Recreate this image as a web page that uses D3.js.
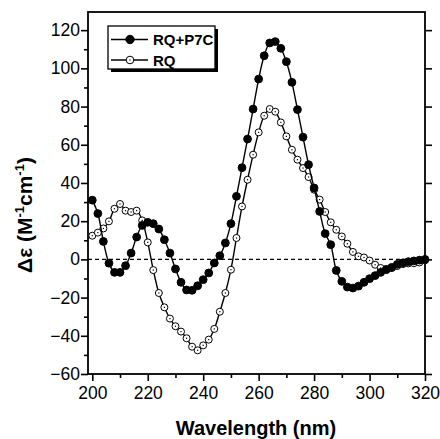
<!DOCTYPE html>
<html>
<head>
<meta charset="utf-8">
<script src="https://cdn.jsdelivr.net/npm/d3@7"></script>
<style>
  body { margin: 0; background: #fff; }
  text { font-family: Arial, "Liberation Sans", sans-serif; }
</style>
</head>
<body>
<div id="chart"></div>
<script>
// wavelength every 2 nm, 200..320
var wavelengths = d3.range(200, 321, 2);

var rqP7C = [31, 24, 9.4, -2, -6.8, -6.8, -3.3, 3.3, 11.7, 17.8,
  19.4, 18.7, 15.9, 10.3, 3.3, -5, -12, -16, -16.2, -13.8,
  -10.6, -7.1, -1.9, 1.9, 8.6, 18.7, 33, 48, 63, 78.7,
  94.4, 106.6, 113.3, 114, 110.5, 103.5, 92.7, 78.4, 64, 49.6,
  37.4, 25.1, 13.5, 7.7, -5.8, -11.5, -14.5, -15, -14, -12,
  -10.1, -8.5, -6.8, -5.4, -4.2, -2.6, -1.8, -1.2, -0.8, -0.4, 0];

var rq = [12.4, 14, 16.2, 19.9, 26.5, 29, 25.5, 24.8, 25.5, 20.4,
  8.9, -5.6, -17.6, -25.1, -31, -35, -37.8, -41.3, -45.7, -47.6,
  -45, -42, -36.4, -27.4, -17.6, -5.4, 11.2, 27.7, 41.7, 54.8,
  66.5, 75.2, 78.7, 77.3, 71.7, 64.4, 57.4, 52.2, 47.8, 43.1,
  36.5, 31.3, 24.8, 19.4, 15.5, 12, 8.2, 3.9, 1.6, 1, -0.6,
  -2.8, -4.5, -5, -4.5, -3.5, -2.5, -2.1, -2, -1.6, -0.5];

var xTicks = [200, 220, 240, 260, 280, 300, 320];
var yTicks = [-60, -40, -20, 0, 20, 40, 60, 80, 100, 120];
var seriesNames = ["RQ+P7C", "RQ"];

var W = 440, H = 439;
var pLeft = 88, pRight = 425, pTop = 12, pBottom = 374;

var svg = d3.select("#chart").append("svg")
  .attr("width", W)
  .attr("height", H);

var x = d3.scaleLinear().domain([198.45, 320]).range([pLeft, pRight]);
var y = d3.scaleLinear().domain([-60, 129.5]).range([pBottom, pTop]);

// axes
var xAxis = d3.axisBottom(x).tickValues(xTicks).tickSize(7).tickSizeOuter(0).tickPadding(6);
var xMinor = d3.axisBottom(x).tickValues(d3.range(210, 320, 20)).tickSize(4).tickFormat("").tickSizeOuter(0);
var yAxis = d3.axisLeft(y).tickValues(yTicks).tickSize(7).tickSizeOuter(0).tickPadding(1);
var yMinor = d3.axisLeft(y).tickValues(d3.range(-50, 130, 20)).tickSize(4).tickFormat("").tickSizeOuter(0);
var yRight = d3.axisRight(y).tickValues(yTicks).tickSize(7).tickFormat("").tickSizeOuter(0);

function styleAxis(g) {
  g.select(".domain").remove();
  g.selectAll("line").attr("stroke", "#000").attr("stroke-width", 1.6);
  g.selectAll("text").attr("fill", "#000").style("font-size", "17.5px");
}

svg.append("g").attr("transform", "translate(0," + pBottom + ")").call(xAxis).call(styleAxis);
svg.append("g").attr("transform", "translate(0," + pBottom + ")").call(xMinor).call(styleAxis);
svg.append("g").attr("transform", "translate(" + pLeft + ",0)").call(yAxis).call(styleAxis);
svg.append("g").attr("transform", "translate(" + pLeft + ",0)").call(yMinor).call(styleAxis);
svg.append("g").attr("transform", "translate(" + pRight + ",0)").call(yRight).call(styleAxis);

// frame
svg.append("rect")
  .attr("x", pLeft).attr("y", pTop)
  .attr("width", pRight - pLeft).attr("height", pBottom - pTop)
  .attr("fill", "none").attr("stroke", "#000").attr("stroke-width", 1.8);

// zero line
svg.append("line")
  .attr("x1", pLeft).attr("x2", pRight)
  .attr("y1", y(0)).attr("y2", y(0))
  .attr("stroke", "#000").attr("stroke-width", 1.2)
  .attr("stroke-dasharray", "4,3");

var line = d3.line()
  .x(function(d) { return x(d[0]); })
  .y(function(d) { return y(d[1]); })
  .curve(d3.curveCatmullRom);

function drawSeries(vals, filled) {
  var pts = wavelengths.map(function(w, i) { return [w, vals[i]]; });
  svg.append("path").datum(pts)
    .attr("d", line)
    .attr("fill", "none").attr("stroke", "#000").attr("stroke-width", 1.4);
  var g = svg.append("g");
  g.selectAll("circle")
    .data(pts)
    .enter()
    .append("circle")
      .attr("cx", function(d) { return x(d[0]); })
      .attr("cy", function(d) { return y(d[1]); })
      .attr("r", filled ? 3.9 : 3.5)
      .attr("fill", filled ? "#000" : "#fff")
      .attr("stroke", "#000")
      .attr("stroke-width", 1);
  if (!filled) {
    g.selectAll("rect.dot")
      .data(pts)
      .enter()
      .append("rect")
        .attr("class", "dot")
        .attr("x", function(d) { return x(d[0]) - 0.6; })
        .attr("y", function(d) { return y(d[1]) - 0.6; })
        .attr("width", 1.2).attr("height", 1.2)
        .attr("fill", "#000");
  }
}

drawSeries(rq, false);
drawSeries(rqP7C, true);

// legend
var lg = svg.append("g");
lg.append("rect").attr("x", 111).attr("y", 29).attr("width", 107).attr("height", 43).attr("fill", "#000");
lg.append("rect").attr("x", 108).attr("y", 26).attr("width", 107).attr("height", 43)
  .attr("fill", "#fff").attr("stroke", "#000").attr("stroke-width", 1.3);

seriesNames.forEach(function(name, i) {
  var cy = 39.5 + i * 20.5;
  lg.append("line").attr("x1", 111).attr("x2", 148).attr("y1", cy).attr("y2", cy)
    .attr("stroke", "#000").attr("stroke-width", 1.4);
  lg.append("circle").attr("cx", 130).attr("cy", cy).attr("r", i === 0 ? 4.2 : 3.8)
    .attr("fill", i === 0 ? "#000" : "#fff").attr("stroke", "#000").attr("stroke-width", 1);
  if (i === 1) {
    lg.append("rect").attr("x", 129.4).attr("y", cy - 0.6).attr("width", 1.2).attr("height", 1.2).attr("fill", "#000");
  }
  lg.append("text").attr("x", 153).attr("y", cy + 5.5)
    .style("font-size", "15px").style("font-weight", "bold")
    .text(name);
});

// axis titles
svg.append("text")
  .attr("x", 256).attr("y", 435)
  .attr("text-anchor", "middle")
  .style("font-size", "20px").style("font-weight", "bold")
  .text("Wavelength (nm)");

var yt = svg.append("text")
  .attr("transform", "translate(32,215) rotate(-90)")
  .attr("text-anchor", "middle")
  .style("font-size", "21px").style("font-weight", "bold");
yt.append("tspan").text("Δε (M");
yt.append("tspan").attr("dy", -8).style("font-size", "13px").text("-1");
yt.append("tspan").attr("dy", 8).text("cm");
yt.append("tspan").attr("dy", -8).style("font-size", "13px").text("-1");
yt.append("tspan").attr("dy", 8).text(")");
</script>
</body>
</html>
